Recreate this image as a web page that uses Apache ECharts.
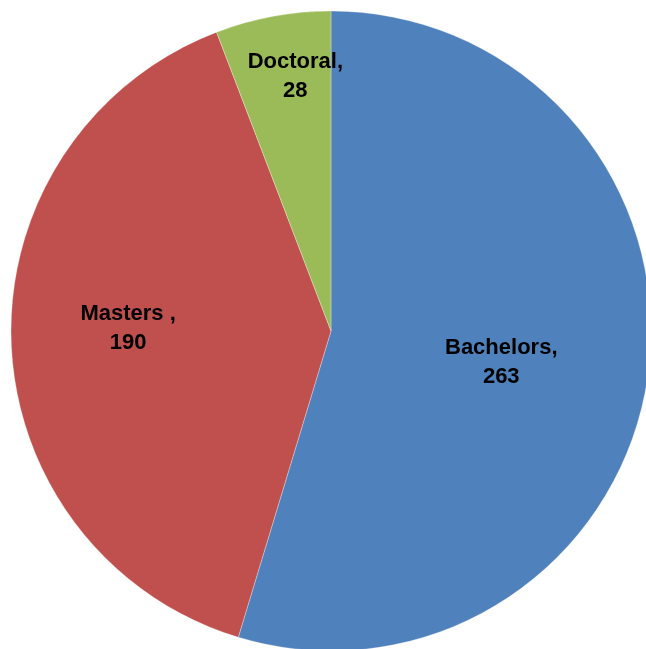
<!DOCTYPE html>
<html>
<head>
<meta charset="utf-8">
<script src="https://cdn.jsdelivr.net/npm/echarts@6/dist/echarts.min.js"></script>
<style>
  html, body { margin: 0; padding: 0; background: #fff; }
  #main { width: 646px; height: 649px; }
</style>
</head>
<body>
<div id="main"></div>
<script>
// degree counts
var categories = ['Bachelors', 'Masters ', 'Doctoral'];
var counts = [263, 190, 28];
var colors = ['#4F81BD', '#C0504D', '#9BBB59'];

// nudge labels to where Excel put them
var labelShift = [[9, 8], [-40, -8], [-6, -94]];

var chart = echarts.init(document.getElementById('main'));

var pieData = categories.map(function (name, i) {
  return { name: name, value: counts[i], itemStyle: { color: colors[i] } };
});

chart.setOption({
  animation: false,
  series: [{
    type: 'pie',
    center: [331, 331],
    radius: [0, 320],
    startAngle: 90,
    clockwise: true,
    avoidLabelOverlap: false,
    itemStyle: { borderColor: 'rgba(255,255,255,0.6)', borderWidth: 0.5 },
    label: {
      show: true,
      position: 'inside',
      formatter: '{b},\n{c}',
      color: '#000',
      fontFamily: 'Liberation Sans',
      fontWeight: 'bold',
      fontSize: 22,
      lineHeight: 29,
      align: 'center'
    },
    labelLine: { show: false },
    labelLayout: function (params) {
      var s = labelShift[params.dataIndex];
      return { dx: s[0], dy: s[1] };
    },
    emphasis: { disabled: true },
    data: pieData
  }]
});
</script>
</body>
</html>
